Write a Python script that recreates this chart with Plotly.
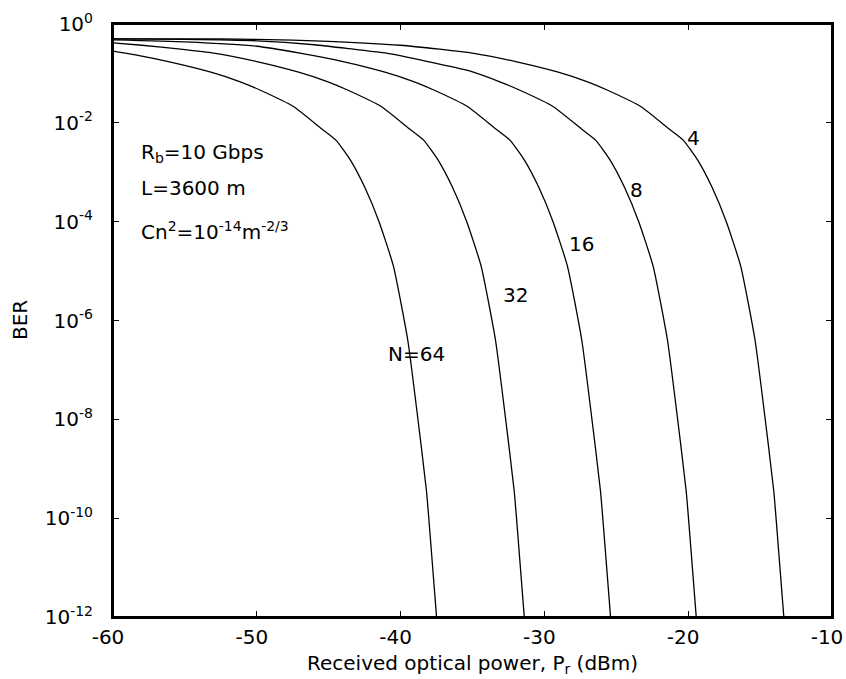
import plotly.graph_objects as go

# Received optical power (dBm) and log10(BER) for each N
n4_x = [-60, -55, -50, -45, -40, -37.3, -35, -32, -29.1, -27, -25.6, -23.3, -21.35, -20.35, -19.35, -18.35, -17.35, -16.35, -15.35, -14.75, -14.05, -13.7, -13.35]
n4_y = [-0.30, -0.30, -0.31, -0.35, -0.43, -0.51, -0.59, -0.76, -0.97, -1.17, -1.34, -1.67, -2.12, -2.35, -2.75, -3.3, -4.0, -4.9, -6.4, -7.75, -9.45, -10.7, -12]

n8_x = [-60, -55, -50, -46, -43.3, -41, -38.1, -35.2, -33.1, -31.7, -29.4, -27.44, -26.44, -25.44, -24.44, -23.44, -22.44, -21.44, -20.84, -20.14, -19.79, -19.44]
n8_y = [-0.30, -0.31, -0.34, -0.42, -0.51, -0.59, -0.76, -0.95, -1.17, -1.34, -1.67, -2.12, -2.35, -2.75, -3.3, -4.0, -4.9, -6.4, -7.75, -9.45, -10.7, -12]

n16_x = [-60, -55, -50, -47, -44, -41.15, -39.05, -37.65, -35.35, -33.4, -32.4, -31.4, -30.4, -29.4, -28.4, -27.4, -26.8, -26.1, -25.75, -25.4]
n16_y = [-0.32, -0.36, -0.45, -0.59, -0.76, -0.97, -1.17, -1.34, -1.67, -2.12, -2.35, -2.75, -3.3, -4.0, -4.9, -6.4, -7.75, -9.45, -10.7, -12]

n32_x = [-60, -58, -55.3, -53, -50, -47.15, -45.05, -43.65, -41.35, -39.4, -38.4, -37.4, -36.4, -35.4, -34.4, -33.4, -32.8, -32.1, -31.75, -31.4]
n32_y = [-0.38, -0.43, -0.51, -0.59, -0.76, -0.97, -1.17, -1.34, -1.67, -2.12, -2.35, -2.75, -3.3, -4.0, -4.9, -6.4, -7.75, -9.45, -10.7, -12]

n64_x = [-60, -58, -56.15, -53.25, -51.15, -49.75, -47.45, -45.5, -44.5, -43.5, -42.5, -41.5, -40.5, -39.5, -38.9, -38.2, -37.85, -37.5]
n64_y = [-0.55, -0.65, -0.76, -0.97, -1.17, -1.34, -1.67, -2.12, -2.35, -2.75, -3.3, -4.0, -4.9, -6.4, -7.75, -9.45, -10.7, -12]

series = [(n4_x, n4_y), (n8_x, n8_y), (n16_x, n16_y), (n32_x, n32_y), (n64_x, n64_y)]

curve_labels = ["4", "8", "16", "32", "N=64"]
label_x = [-19.6, -23.6, -27.45, -32.0, -38.9]
label_logy = [-2.31, -3.36, -4.46, -5.49, -6.68]

x_ticks = [-60, -50, -40, -30, -20, -10]
y_tick_exp = [0, -2, -4, -6, -8, -10, -12]

FONT = "DejaVu Sans"
FS = 20

fig = go.Figure()
for xs, ly in series:
    fig.add_trace(go.Scatter(
        x=xs, y=[10 ** v for v in ly], mode="lines",
        line=dict(color="black", width=1.3, shape="spline", smoothing=0.5),
        showlegend=False, hoverinfo="skip"))

annotations = []
for t, lx, lyv in zip(curve_labels, label_x, label_logy):
    annotations.append(dict(x=lx, y=lyv, xref="x", yref="y", text=t, showarrow=False,
                            xanchor="center", yanchor="middle",
                            font=dict(family=FONT, size=FS, color="black")))

annotations += [
    dict(x=-58.22, y=-2.61, xref="x", yref="y", text="R<sub>b</sub>=10 Gbps", showarrow=False,
         xanchor="left", yanchor="middle", font=dict(family=FONT, size=FS, color="black")),
    dict(x=-58.22, y=-3.32, xref="x", yref="y", text="L=3600 m", showarrow=False,
         xanchor="left", yanchor="middle", font=dict(family=FONT, size=FS, color="black")),
    dict(x=-58.22, y=-4.18, xref="x", yref="y",
         text="Cn<sup>2</sup>=10<sup>-14</sup>m<sup>-2/3</sup>", showarrow=False,
         xanchor="left", yanchor="middle", font=dict(family=FONT, size=FS, color="black")),
    dict(x=0.5, y=-0.079, xref="paper", yref="paper",
         text="Received optical power, P<sub>r</sub> (dBm)", showarrow=False,
         xanchor="center", yanchor="middle", font=dict(family=FONT, size=FS, color="black")),
    dict(x=-0.13, y=0.5, xref="paper", yref="paper", text="BER", showarrow=False,
         textangle=-90, xanchor="center", yanchor="middle",
         font=dict(family=FONT, size=FS, color="black")),
]

fig.update_layout(
    width=846, height=679,
    margin=dict(l=113, r=14, t=24, b=62, autoexpand=False),
    paper_bgcolor="white", plot_bgcolor="white",
    font=dict(family=FONT, size=FS, color="black"),
    annotations=annotations,
    shapes=[dict(type="rect", xref="paper", yref="paper", x0=0, x1=1, y0=0, y1=1,
                 line=dict(color="black", width=2), layer="above")],
    xaxis=dict(range=[-60, -10], tickvals=x_ticks, ticktext=[str(v) for v in x_ticks],
               showgrid=False, zeroline=False, showline=True, linecolor="black", linewidth=2,
               mirror="ticks", ticks="inside", ticklen=6, tickwidth=1, tickcolor="black",
               ticklabelstandoff=1, ticklabelshift=-5, ticklabeloverflow="allow",
               automargin=False, tickfont=dict(family=FONT, size=FS, color="black")),
    yaxis=dict(type="log", range=[-12, 0], tickvals=[10 ** e for e in y_tick_exp],
               ticktext=["10<sup>%d</sup>" % e for e in y_tick_exp],
               showgrid=False, zeroline=False, showline=True, linecolor="black", linewidth=2,
               mirror="ticks", ticks="inside", ticklen=6, tickwidth=1, tickcolor="black",
               ticklabelstandoff=14, ticklabeloverflow="allow", automargin=False,
               tickfont=dict(family=FONT, size=FS, color="black")),
)

fig.write_html("out.html")
